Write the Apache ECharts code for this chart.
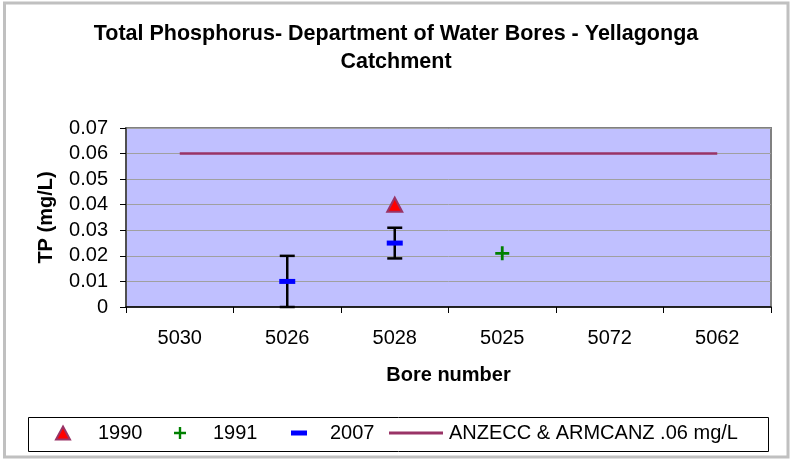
<!DOCTYPE html>
<html>
<head>
<meta charset="utf-8">
<script src="https://cdn.jsdelivr.net/npm/echarts@6/dist/echarts.min.js"></script>
<style>
  html, body { margin: 0; padding: 0; background: #fff; }
  #chart { width: 792px; height: 459px; }
</style>
</head>
<body>
<div id="chart"></div>
<script>
// bore categories and measured values (mg/L)
var bores = ['5030', '5026', '5028', '5025', '5072', '5062'];
var tp1990 = ['-', '-', 0.040, '-', '-', '-'];
var tp1991 = ['-', '-', '-', 0.021, '-', '-'];
var tp2007 = ['-', 0.010, 0.025, '-', '-', '-'];
var err2007Low = [null, 0.000, 0.019, null, null, null];
var err2007High = [null, 0.020, 0.031, null, null, null];
var anzecc = [0.06, 0.06, 0.06, 0.06, 0.06, 0.06];

var FONT = "'Liberation Sans', Arial, sans-serif";
var PLUS = 'path://M4,0H6V4H10V6H6V10H4V6H0V4H4Z';

// error bar data: [category index, low, high]
var errData = [];
for (var i = 0; i < bores.length; i++) {
    if (err2007Low[i] != null) errData.push([i, err2007Low[i], err2007High[i]]);
}

var chart = echarts.init(document.getElementById('chart'));

var legendText = { fontFamily: FONT, fontSize: 20, color: '#000' };

var option = {
    backgroundColor: '#fff',
    animation: false,
    title: {
        text: 'Total Phosphorus- Department of Water Bores - Yellagonga\nCatchment',
        left: 'center',
        top: 15,
        textStyle: { fontFamily: FONT, fontSize: 21.5, fontWeight: 'bold', color: '#000', lineHeight: 28 }
    },
    graphic: [
        { type: 'rect', shape: { x: 4.5, y: 3, width: 783.5, height: 454 },
          style: { fill: 'none', stroke: '#c0c0c0', lineWidth: 3 }, z: -1 },
        { type: 'rect', shape: { x: 28.5, y: 417.5, width: 740, height: 34 },
          style: { fill: '#fff', stroke: '#000', lineWidth: 1 }, z: 0 }
    ],
    legend: [
        { data: ['1990'], left: 55, top: 423, padding: 0, itemWidth: 14, itemHeight: 13,
          textStyle: Object.assign({ padding: [0, 0, 0, 23] }, legendText), z: 5 },
        { data: ['1991'], left: 174, top: 423, padding: 0, itemWidth: 12, itemHeight: 12,
          textStyle: Object.assign({ padding: [0, 0, 0, 22] }, legendText), z: 5 },
        { data: ['2007'], left: 291, top: 423, padding: 0, itemWidth: 16, itemHeight: 5,
          textStyle: Object.assign({ padding: [0, 0, 0, 18] }, legendText), z: 5 },
        { data: [{ name: 'ANZECC & ARMCANZ .06 mg/L', icon: 'rect', itemStyle: { color: '#993366' } }],
          left: 389, top: 423, padding: 0, itemWidth: 54, itemHeight: 3,
          textStyle: Object.assign({ padding: [0, 0, 0, 1] }, legendText), z: 5 }
    ],
    grid: {
        left: 126, right: 21, top: 128, bottom: 152,
        show: true, backgroundColor: '#c0c0ff', borderColor: '#808080', borderWidth: 2
    },
    xAxis: {
        type: 'category',
        data: bores,
        name: 'Bore number',
        nameLocation: 'middle',
        nameGap: 58,
        nameTextStyle: { fontFamily: FONT, fontSize: 20, fontWeight: 'bold', color: '#000' },
        axisLine: { lineStyle: { color: '#000', width: 1.5 } },
        axisTick: { show: true, length: 6, lineStyle: { color: '#000' } },
        axisLabel: { fontFamily: FONT, fontSize: 20, color: '#000', margin: 21 }
    },
    yAxis: {
        type: 'value',
        min: 0, max: 0.07, interval: 0.01,
        name: 'TP (mg/L)',
        nameLocation: 'middle',
        nameGap: 70,
        nameTextStyle: { fontFamily: FONT, fontSize: 20, fontWeight: 'bold', color: '#000' },
        axisLine: { show: true, lineStyle: { color: '#404040', width: 1.5 } },
        axisTick: { show: true, length: 6, lineStyle: { color: '#000' } },
        axisLabel: { fontFamily: FONT, fontSize: 20, color: '#000', margin: 18 },
        splitLine: { lineStyle: { color: '#a0a0a0', width: 1 } }
    },
    series: [
        {
            name: 'ANZECC & ARMCANZ .06 mg/L',
            type: 'line',
            data: anzecc,
            symbol: 'none',
            lineStyle: { color: '#993366', width: 2.5 },
            itemStyle: { color: '#993366' },
            z: 2
        },
        {
            name: 'err2007',
            type: 'custom',
            data: errData,
            renderItem: function (params, api) {
                var top = api.coord([api.value(0), api.value(2)]);
                var bot = api.coord([api.value(0), api.value(1)]);
                var hw = 7.5;
                var st = { stroke: '#000', lineWidth: 2.5 };
                return {
                    type: 'group',
                    children: [
                        { type: 'line', shape: { x1: top[0], y1: top[1], x2: bot[0], y2: bot[1] }, style: st },
                        { type: 'line', shape: { x1: top[0] - hw, y1: top[1], x2: top[0] + hw, y2: top[1] }, style: st },
                        { type: 'line', shape: { x1: bot[0] - hw, y1: bot[1], x2: bot[0] + hw, y2: bot[1] }, style: st }
                    ]
                };
            },
            z: 3
        },
        {
            name: '1990',
            type: 'scatter',
            data: tp1990,
            symbol: 'triangle',
            symbolSize: [15, 14],
            itemStyle: { color: '#ff0000', borderColor: '#993366', borderWidth: 2, opacity: 1 },
            z: 4
        },
        {
            name: '1991',
            type: 'scatter',
            data: tp1991,
            symbol: PLUS,
            symbolSize: 14,
            itemStyle: { color: '#008000', opacity: 1 },
            z: 4
        },
        {
            name: '2007',
            type: 'scatter',
            data: tp2007,
            symbol: 'rect',
            symbolSize: [16, 5],
            itemStyle: { color: '#0000ff', opacity: 1 },
            z: 5
        }
    ]
};

chart.setOption(option);
</script>
</body>
</html>
